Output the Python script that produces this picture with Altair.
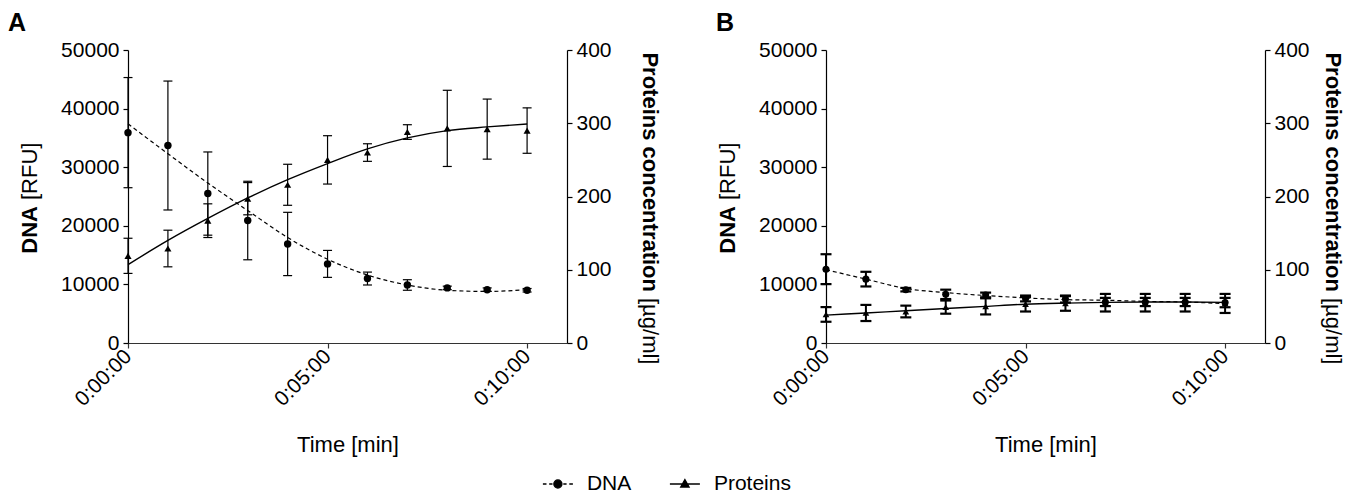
import altair as alt
import pandas as pd

# ---------------- data ----------------
minutes = list(range(11))
x_tick_values = [0, 5, 10]
x_tick_labels = ["0:00:00", "0:05:00", "0:10:00"]
dna_ticks = [0, 10000, 20000, 30000, 40000, 50000]
prot_ticks = [0, 100, 200, 300, 400]
series_names = ["DNA", "Proteins"]
panel_letters = ["A", "B"]
x_title = "Time [min]"
dna_title = ["DNA", "[RFU]"]
prot_title = ["Proteins concentration", "[µg/ml]"]

# Panel A
a_dna = [35900, 33700, 25500, 20900, 16900, 13500, 11000, 9900, 9400, 9100, 9000]
a_dna_err = [9400, 11000, 7100, 6700, 5400, 2300, 1100, 900, 300, 300, 300]
a_dna_fit = [37400, 32300, 27300, 22600, 18000, 14300, 11600, 9900, 9000, 8800, 9100]
a_prot = [119, 129, 167, 197, 216, 250, 260, 288, 293, 292, 290]
a_prot_err = [24, 25, 23, 22, 28, 33, 12, 10, 52, 41, 31]
a_prot_fit = [107, 140, 170, 198, 223, 245, 265, 280, 290, 295, 299]

# Panel B
b_dna = [12600, 10900, 9100, 8300, 8200, 7600, 7500, 7000, 7000, 7000, 6900]
b_dna_err = [2550, 1250, 300, 800, 400, 500, 600, 700, 700, 700, 800]
b_dna_fit = [12500, 10900, 9300, 8600, 8100, 7700, 7400, 7300, 7100, 7000, 6700]
b_prot = [39, 41, 43, 49, 50, 53, 54, 55, 55, 55, 54]
b_prot_err = [10, 11, 8, 9, 11, 10, 10, 12, 12, 12, 13]
b_prot_fit = [38, 41, 44, 47, 50, 53, 54.5, 55.5, 56, 56, 55.5]

FONT = "Liberation Sans"
W, H = 439, 293


def make_frame(dna, dna_err, dna_fit, prot, prot_err, prot_fit):
    return pd.DataFrame({
        "t": minutes,
        "dna": dna,
        "dna_lo": [v - e for v, e in zip(dna, dna_err)],
        "dna_hi": [v + e for v, e in zip(dna, dna_err)],
        "dna_fit": dna_fit,
        "prot": prot,
        "prot_lo": [v - e for v, e in zip(prot, prot_err)],
        "prot_hi": [v + e for v, e in zip(prot, prot_err)],
        "prot_fit": prot_fit,
    })


label_expr = "''"
for v, lab in reversed(list(zip(x_tick_values, x_tick_labels))):
    label_expr = f"datum.value == {v} ? '{lab}' : {label_expr}"

x_axis = alt.Axis(values=x_tick_values, labelExpr=label_expr, labelAngle=-45,
                  labelAlign="right", labelBaseline="middle", labelPadding=5,
                  title=x_title, titleFontWeight="normal", titleFontSize=22,
                  titlePadding=25, domainColor="#333333", tickColor="#333333")
x_enc = alt.X("t:Q", scale=alt.Scale(domain=[0, 11], nice=False), axis=x_axis)

dna_axis = alt.Axis(orient="left", values=dna_ticks, title=None, format="d")
prot_axis = alt.Axis(orient="right", values=prot_ticks, title=None, format="d")
dna_scale = alt.Scale(domain=[0, 50000], nice=False)
prot_scale = alt.Scale(domain=[0, 400], nice=False)

path_dna = ("M-1,0L-0.76,0M-0.58,0L-0.36,0M0.36,0L0.58,0M0.76,0L1,0"
            "M0.27,0A0.27,0.27,0,1,1,-0.27,0A0.27,0.27,0,1,1,0.27,0Z")
path_prot = "M-1,0L1,0M-0.28,0.2L0.28,0.2L0,-0.3Z"


def panel(df, letter, letter_x, right_x, cap_w, cap_th, bar_w, c_size, t_size):
    base = alt.Chart(df)
    yd = lambda f: alt.Y(f"{f}:Q", scale=dna_scale, axis=dna_axis)
    yp = lambda f: alt.Y(f"{f}:Q", scale=prot_scale, axis=prot_axis)

    dna_layer = alt.layer(
        base.mark_rule(color="black", strokeWidth=bar_w).encode(x=x_enc, y=yd("dna_lo"), y2="dna_hi:Q"),
        base.mark_tick(orient="horizontal", size=cap_w, thickness=cap_th, color="black", opacity=1).encode(x=x_enc, y=yd("dna_lo")),
        base.mark_tick(orient="horizontal", size=cap_w, thickness=cap_th, color="black", opacity=1).encode(x=x_enc, y=yd("dna_hi")),
        base.mark_line(color="black", strokeWidth=1.2, strokeDash=[4, 3], interpolate="monotone").encode(x=x_enc, y=yd("dna_fit")),
        base.mark_point(shape="circle", filled=True, color="black", opacity=1, size=c_size).encode(x=x_enc, y=yd("dna")),
    )

    prot_layer = alt.layer(
        base.mark_rule(color="black", strokeWidth=bar_w).encode(x=x_enc, y=yp("prot_lo"), y2="prot_hi:Q"),
        base.mark_tick(orient="horizontal", size=cap_w, thickness=cap_th, color="black", opacity=1).encode(x=x_enc, y=yp("prot_lo")),
        base.mark_tick(orient="horizontal", size=cap_w, thickness=cap_th, color="black", opacity=1).encode(x=x_enc, y=yp("prot_hi")),
        base.mark_line(color="black", strokeWidth=1.4, interpolate="monotone").encode(x=x_enc, y=yp("prot_fit")),
        base.mark_point(shape="triangle-up", filled=True, color="black", opacity=1, size=t_size).encode(x=x_enc, y=yp("prot")),
    )

    one = pd.DataFrame({"k": [letter]})
    texts = [
        alt.Chart(one).mark_text(text=letter, font=FONT, fontSize=25, fontWeight="bold",
                                 align="left", baseline="top", color="black")
        .encode(x=alt.value(letter_x), y=alt.value(-39)),
        alt.Chart(one).mark_text(text=dna_title[0], font=FONT, fontSize=22, fontWeight="bold",
                                 angle=270, align="right", baseline="middle", color="black")
        .encode(x=alt.value(-98), y=alt.value(156)),
        alt.Chart(one).mark_text(text=dna_title[1], font=FONT, fontSize=22, fontWeight="normal",
                                 angle=270, align="left", baseline="middle", color="black")
        .encode(x=alt.value(-98), y=alt.value(150)),
        alt.Chart(one).mark_text(text=prot_title[0], font=FONT, fontSize=22, fontWeight="bold",
                                 angle=90, align="right", baseline="middle", color="black")
        .encode(x=alt.value(right_x), y=alt.value(242)),
        alt.Chart(one).mark_text(text=prot_title[1], font=FONT, fontSize=22, fontWeight="normal",
                                 angle=90, align="left", baseline="middle", color="black")
        .encode(x=alt.value(right_x), y=alt.value(248)),
    ]

    return alt.layer(dna_layer, prot_layer, *texts).resolve_scale(y="independent").properties(width=W, height=H)


df_a = make_frame(a_dna, a_dna_err, a_dna_fit, a_prot, a_prot_err, a_prot_fit)
df_b = make_frame(b_dna, b_dna_err, b_dna_fit, b_prot, b_prot_err, b_prot_fit)

pa = panel(df_a, panel_letters[0], -120, 522, 9, 1.2, 1.2, 55, 50)
pb = panel(df_b, panel_letters[1], -110, 507, 11, 2.2, 2.0, 50, 45)

# ---------------- legend row (centred under the panels) ----------------
leg_df = pd.DataFrame({"series": series_names})
leg_x = alt.X("series:N", axis=None,
              scale=alt.Scale(type="point", domain=series_names, padding=0.996, align=0.047))
leg_base = alt.Chart(leg_df)
legend_row = alt.layer(
    leg_base.mark_point(filled=True, stroke="black", fill="black", strokeWidth=1.3, opacity=1, size=900)
    .encode(x=leg_x,
            shape=alt.Shape("series:N", legend=None,
                            scale=alt.Scale(domain=series_names, range=[path_dna, path_prot]))),
    leg_base.mark_text(align="left", baseline="middle", dx=29, font=FONT, fontSize=21, color="black")
    .encode(x=leg_x, text="series:N"),
).properties(width=380, height=16)

chart = (
    alt.vconcat(alt.hconcat(pa, pb, spacing=55), legend_row, spacing=17, center=True)
    .properties(padding={"left": 0, "top": 3, "right": 4, "bottom": 0})
    .configure_view(stroke=None)
    .configure_axis(labelFont=FONT, labelFontSize=21, labelColor="black", titleFont=FONT,
                    titleColor="black", domainColor="black", tickColor="black",
                    tickSize=5, labelPadding=4, grid=False, domainWidth=1.2, tickWidth=1.2)
)

chart.save("out.html", embed_options={"renderer": "svg", "actions": False})
